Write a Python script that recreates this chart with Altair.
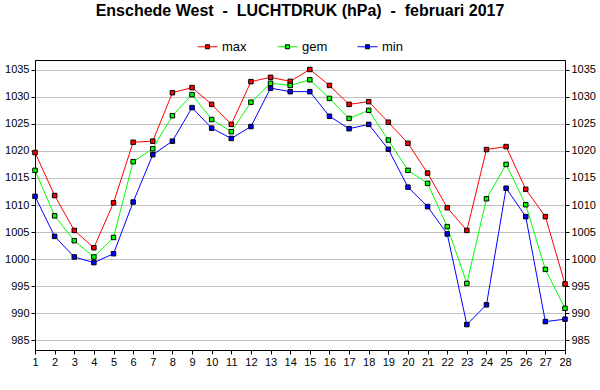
import altair as alt
import pandas as pd

days = list(range(1, 29))
series = ["max", "gem", "min"]
colors = ["#ff0000", "#00ff00", "#0000ff"]

p_max = [1019.7, 1011.75, 1005.3, 1002.1, 1010.4, 1021.6, 1021.8, 1030.75, 1031.7, 1028.6,
         1024.9, 1032.8, 1033.6, 1032.85, 1035.05, 1032.1, 1028.6, 1029.1, 1025.3, 1021.4,
         1015.9, 1009.5, 1005.3, 1020.25, 1020.8, 1012.9, 1007.85, 995.4]
p_gem = [1016.4, 1008.0, 1003.4, 1000.4, 1004.0, 1018.0, 1020.4, 1026.5, 1030.4, 1025.8,
         1023.55, 1029.0, 1032.5, 1032.1, 1033.15, 1029.7, 1026.0, 1027.5, 1022.0, 1016.4,
         1014.0, 1006.0, 995.5, 1011.15, 1017.5, 1010.05, 998.1, 990.9]
p_min = [1011.6, 1004.2, 1000.4, 999.35, 1001.0, 1010.55, 1019.3, 1021.8, 1028.0, 1024.2,
         1022.3, 1024.5, 1031.6, 1030.95, 1030.95, 1026.4, 1024.1, 1024.9, 1020.3, 1013.3,
         1009.7, 1004.65, 987.9, 991.55, 1013.1, 1007.85, 988.45, 988.9]
y_ticks = [985, 990, 995, 1000, 1005, 1010, 1015, 1020, 1025, 1030, 1035]

rows = []
for name, vals in zip(series, [p_max, p_gem, p_min]):
    for d, v in zip(days, vals):
        rows.append({"dag": d, "druk": v, "reeks": name, "reeks_m": name})
df = pd.DataFrame(rows)

FONT = "Liberation Sans"
NB = "\u00a0"
title_text = f"Enschede West{NB}{NB}-{NB}{NB}LUCHTDRUK (hPa){NB}{NB}-{NB}{NB}februari 2017"

xscale = alt.Scale(domain=[1, 28], nice=False, zero=False)
yscale = alt.Scale(domain=[983.2, 1036.8], nice=False, zero=False)

x_enc = alt.X("dag:Q", scale=xscale, title=None,
              axis=alt.Axis(values=days, format="d", grid=False, labelFlush=False))

line_path = "M-1,0H1"
sq_path = "M-1,0M1,0M-0.2,-0.2H0.2V0.2H-0.2Z"

leg_common = dict(orient="none", legendX=162, legendY=-24, direction="horizontal",
                  title=None, symbolSize=400, labelFont=FONT, labelFontSize=13,
                  labelColor="black", labelOffset=4, columnPadding=27,
                  gridAlign="all", padding=0)

lines = alt.Chart(df).mark_line(strokeWidth=1).encode(
    x=x_enc,
    y=alt.Y("druk:Q", scale=yscale, title=None,
            axis=alt.Axis(values=y_ticks, orient="left", grid=True, format="d")),
    stroke=alt.Stroke("reeks:N", scale=alt.Scale(domain=series, range=colors),
                      legend=alt.Legend(symbolType=line_path, symbolStrokeWidth=1, **leg_common)),
)

points = alt.Chart(df).mark_point(shape="square", filled=True, size=20, stroke="black",
                                  strokeWidth=1, opacity=1).encode(
    x=x_enc,
    y=alt.Y("druk:Q", scale=yscale, title=None,
            axis=alt.Axis(values=y_ticks, orient="right", grid=False, format="d")),
    fill=alt.Fill("reeks_m:N", scale=alt.Scale(range=colors), sort=series,
                  legend=alt.Legend(symbolType=sq_path, symbolStrokeWidth=1,
                                    symbolStrokeColor="black", labelOpacity=0, **leg_common)),
)

chart = alt.layer(lines, points).resolve_axis(y="independent").properties(
    width=530, height=290,
    title=alt.TitleParams(title_text,
                          font=FONT, fontSize=16, fontWeight="bold", color="black",
                          anchor="middle", offset=17),
    autosize=alt.AutoSizeParams(type="none"),
    padding={"left": 35, "top": 60, "right": 35, "bottom": 40},
    background="white",
).configure_view(stroke="black", strokeWidth=1).configure_axis(
    domainColor="black", tickColor="black", labelColor="black", labelFont=FONT,
    labelFontSize=11, tickSize=4, gridColor="#c0c0c0", gridWidth=1, labelPadding=2,
    domainWidth=1, tickWidth=1,
)

chart.save("out.html", embed_options={"renderer": "svg", "actions": False})
